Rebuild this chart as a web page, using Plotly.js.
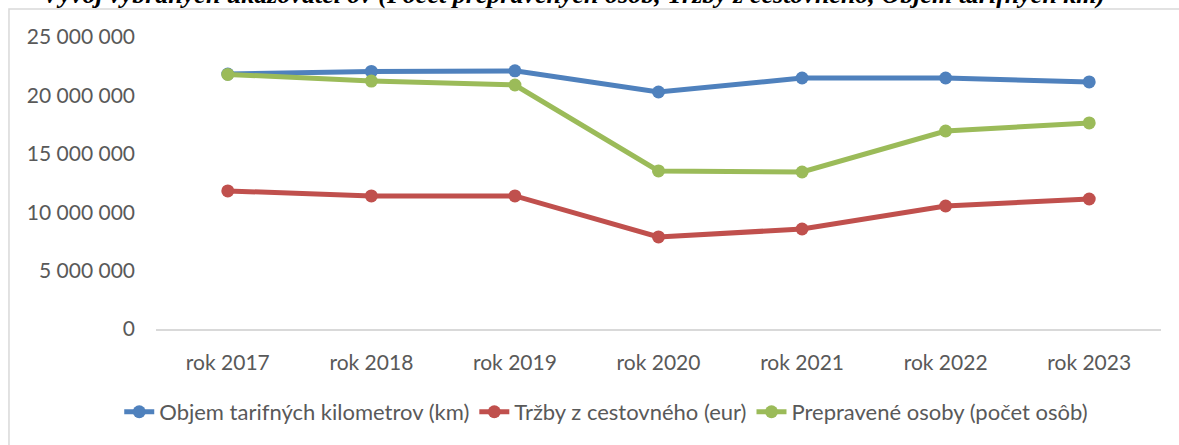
<!DOCTYPE html>
<html>
<head>
<meta charset="utf-8">
<script src="https://cdn.plot.ly/plotly-3.0.1.min.js"></script>
<style>html,body{margin:0;padding:0;background:#fff;}#chart{width:1179px;height:445px;}</style>
</head>
<body>
<div id="chart"></div>
<script>
const categories = ["rok 2017","rok 2018","rok 2019","rok 2020","rok 2021","rok 2022","rok 2023"];
const objemKm = [21830000, 22050000, 22100000, 20290000, 21490000, 21490000, 21150000];
const trzby = [11820000, 11390000, 11390000, 7880000, 8560000, 10530000, 11130000];
const prepraveneOsoby = [21800000, 21230000, 20890000, 13530000, 13440000, 16950000, 17640000];
const seriesNames = ["Objem tarifných kilometrov (km)", "Tržby z cestovného (eur)", "Prepravené osoby (počet osôb)"];
const yTickVals = [0, 5000000, 10000000, 15000000, 20000000, 25000000];
const yTickText = ["0", "5 000 000", "10 000 000", "15 000 000", "20 000 000", "25 000 000"];
const titleText = "Vývoj vybraných ukazovateľov (Počet prepravených osôb, Tržby z cestovného, Objem tarifných km)";

const colors = ["#4F81BD", "#C0504D", "#9BBB59"];
const seriesData = [objemKm, trzby, prepraveneOsoby];

const traces = seriesData.map((vals, i) => ({
  type: "scatter",
  mode: "lines+markers",
  x: categories,
  y: vals,
  name: seriesNames[i],
  line: {color: colors[i], width: 5},
  marker: {color: colors[i], size: 13},
  cliponaxis: false
}));

const font = "Lato, 'Open Sans', sans-serif";
const layout = {
  width: 1179,
  height: 445,
  margin: {l: 156, r: 18, t: 37, b: 116},
  paper_bgcolor: "#ffffff",
  plot_bgcolor: "#ffffff",
  showlegend: true,
  legend: {
    orientation: "h",
    x: 0.448, xanchor: "center",
    y: -0.284, yanchor: "middle",
    font: {family: font, size: 22, color: "#595959"},
    itemwidth: 30,
    tracegroupgap: 0
  },
  xaxis: {
    type: "category",
    range: [-0.5, 6.5],
    showgrid: false,
    zeroline: false,
    showline: true,
    linecolor: "#d9d9d9",
    linewidth: 1.5,
    ticks: "",
    ticklabelstandoff: 14,
    tickfont: {family: font, size: 21, color: "#595959"},
    fixedrange: true
  },
  yaxis: {
    range: [0, 25000000],
    tickvals: yTickVals,
    ticktext: yTickText,
    showgrid: false,
    zeroline: false,
    showline: false,
    ticks: "",
    ticklabelstandoff: 20,
    tickfont: {family: font, size: 21, color: "#595959"},
    fixedrange: true
  },
  shapes: [{
    type: "rect", xref: "paper", yref: "paper",
    x0: -0.1463, x1: 1.1, y0: -0.6, y1: 1.0959,
    line: {color: "#d9d9d9", width: 1.5},
    fillcolor: "rgba(0,0,0,0)",
    layer: "below"
  }],
  annotations: [{
    text: "<b><i>" + titleText + "</i></b>",
    xref: "paper", yref: "paper",
    x: 0.415, y: 1.088,
    xanchor: "center", yanchor: "bottom",
    showarrow: false,
    font: {family: "'Liberation Serif', 'Times New Roman', serif", size: 26, color: "#000000"}
  }]
};

Plotly.newPlot("chart", traces, layout, {displayModeBar: false, staticPlot: true});
</script>
</body>
</html>
